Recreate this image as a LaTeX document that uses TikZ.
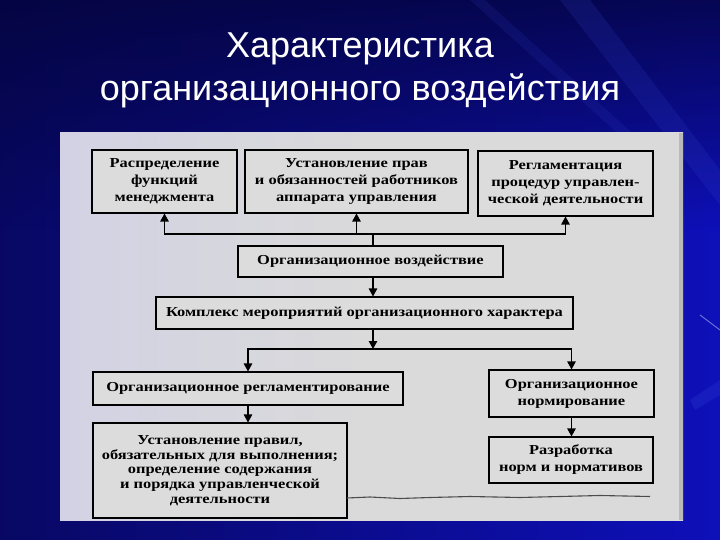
\documentclass[tikz,border=0pt]{standalone}
\usepackage{fontspec}
\setmainfont{Liberation Serif}
\newfontfamily\titlefont{Liberation Sans}
\newfontfamily\scanfont{Liberation Serif}[FakeStretch=1.2]
\usetikzlibrary{arrows.meta,fadings}
\definecolor{bgleft}{RGB}{8,8,100}
\definecolor{bgright}{RGB}{14,16,185}
\definecolor{bgdark}{RGB}{4,4,60}
\definecolor{bgstreak}{RGB}{60,80,220}
\definecolor{panelgray}{RGB}{218,218,218}
\definecolor{panelblue}{RGB}{210,210,228}
\definecolor{boxgray}{RGB}{220,220,220}
\begin{document}
\begin{tikzpicture}[x=1pt,y=-1pt,
  box/.style={draw=black, line width=1.1pt, fill=boxgray, inner sep=2pt, align=center,
    font=\scanfont\bfseries\fontsize{13.7}{17}\selectfont},
  tight/.style={font=\scanfont\bfseries\fontsize{13.7}{14.7}\selectfont},
  arr/.style={-{Triangle[width=8.5pt,length=8pt]}, line width=1.1pt},
  conn/.style={line width=1.1pt},
  ttl/.style={text=white, font=\titlefont\fontsize{36}{44}\selectfont, anchor=base}]
\useasboundingbox (0,0) rectangle (720,540);
% background
\shade[left color=bgleft, right color=bgright] (0,0) rectangle (720,540);
\fill[bgdark, path fading=south, opacity=0.8] (0,0) rectangle (720,230);
\fill[bgstreak, opacity=0.15] (560,0) -- (590,0) -- (720,170) -- (720,205) -- cycle;
\fill[bgstreak, opacity=0.12] (470,0) -- (485,0) -- (640,140) -- (625,140) -- cycle;
\fill[bgstreak, opacity=0.2] (690,400) -- (720,380) -- (720,395) -- (695,410) -- cycle;
\draw[line width=1pt, white!55!bgright, opacity=0.7] (700,315) -- (720,330);
% panel
\shade[left color=panelblue, right color=panelgray, middle color=panelgray] (60,133) rectangle (683,520);
\fill[gray!55] (679,133) rectangle (683,520);
% boxes
\node[box, minimum width=145, minimum height=63] (b1) at (164.5,181.5) {Распределение\\функций\\менеджмента};
\node[box, minimum width=223, minimum height=63] (b2) at (356.5,181.5) {Установление прав\\и обязанностей работников\\аппарата управления};
\node[box, minimum width=175, minimum height=65] (b3) at (565.5,183.5) {Регламентация\\процедур управлен-\\ческой деятельности};
\node[box, minimum width=265, minimum height=31] (b4) at (370.5,261.5) {Организационное воздействие};
\node[box, minimum width=417, minimum height=32] (b5) at (364.5,313) {Комплекс мероприятий организационного характера};
\node[box, minimum width=310, minimum height=33] (b6) at (248,388.5) {Организационное регламентирование};
\node[box, minimum width=165, minimum height=47] (b7) at (571.5,393.5) {Организационное\\нормирование};
\node[box, tight, minimum width=254, minimum height=95] (b8) at (220,470.5) {Установление правил,\\обязательных для выполнения;\\определение содержания\\и порядка управленческой\\деятельности};
\node[box, minimum width=164, minimum height=46] (b9) at (571,460) {Разработка\\норм и нормативов};
% connectors
\coordinate (t) at (373,234);
\coordinate (m) at (373,349);
\draw[conn] (b4.north -| t) -- (t);
\draw[arr] (t) -| (b1.south);
\draw[arr] (t) -| (b2.south);
\draw[arr] (t) -| (b3.south);
\draw[arr] (b4.south -| t) -- (b5.north -| t);
\draw[arr] (b5.south -| m) -- (m);
\draw[arr] (m) -| (b6.north);
\draw[arr] (m) -| (b7.north);
\draw[arr] (b6.south) -- (b6.south |- b8.north);
\draw[arr] (b7.south) -- (b7.south |- b9.north);
% scan artefact line
\draw[line width=1.1pt, black!70] (347,498) -- (370,497) -- (400,498.5) -- (430,497.5) -- (470,496.5) -- (520,497.5) -- (560,496.5) -- (600,495.5) -- (650,496.5);
% title
\node[ttl] (title1) at (360,58) {Характеристика};
\node[ttl] (title2) at (360,101) {организационного воздействия};
\end{tikzpicture}
\end{document}
